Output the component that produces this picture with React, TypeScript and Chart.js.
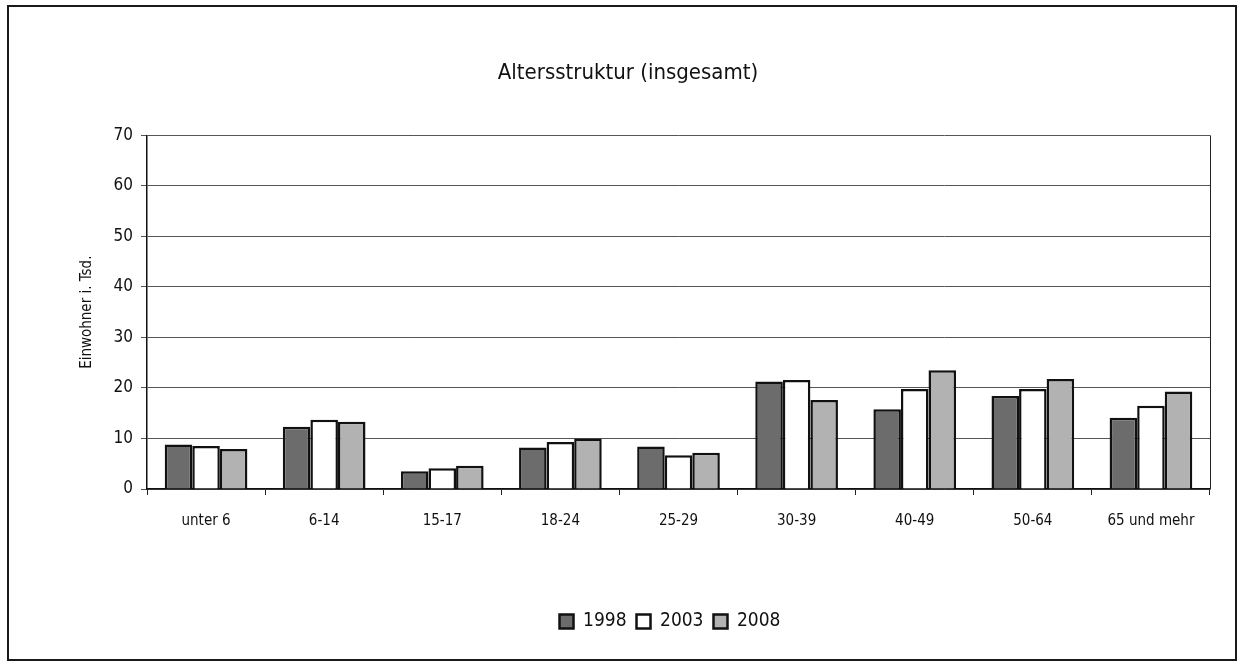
import React, { useEffect, useRef } from "react";
import { Chart, registerables } from "chart.js";

Chart.register(...registerables);

const categories = ["unter 6", "6-14", "15-17", "18-24", "25-29", "30-39", "40-49", "50-64", "65 und mehr"];
const seriesLabels = ["1998", "2003", "2008"];
const values1998 = [8.8, 12.3, 3.5, 8.2, 8.4, 21.3, 15.8, 18.4, 14.1];
const values2003 = [8.5, 13.7, 4.1, 9.3, 6.7, 21.6, 19.8, 19.8, 16.5];
const values2008 = [7.9, 13.3, 4.6, 10.0, 7.2, 17.6, 23.5, 21.8, 19.3];
const yMin = 0;
const yMax = 70;
const yStep = 10;

const FONT = "'Liberation Sans Narrow', 'DejaVu Sans Condensed', 'Roboto Condensed', 'Arial Narrow', sans-serif";

const rightBorder = {
  id: "rightBorder",
  afterDraw(chart: any) {
    const { ctx, chartArea } = chart;
    ctx.save();
    ctx.strokeStyle = "#222";
    ctx.lineWidth = 1;
    ctx.beginPath();
    ctx.moveTo(Math.round(chartArea.right) + 0.5, chartArea.top);
    ctx.lineTo(Math.round(chartArea.right) + 0.5, chartArea.bottom);
    ctx.stroke();
    ctx.restore();
  },
};

const legendShift = {
  id: "legendShift",
  afterLayout(chart: any) {
    const lg = chart.legend;
    if (lg) {
      lg.left += 42;
      lg.right += 42;
    }
  },
};

export default function App() {
  const ref = useRef<HTMLCanvasElement | null>(null);
  useEffect(() => {
    if (!ref.current) return;
    Chart.defaults.font.family = FONT;
    Chart.defaults.color = "#1a1a1a";
    const chart = new Chart(ref.current, {
      type: "bar",
      data: {
        labels: categories,
        datasets: [
          { label: seriesLabels[0], data: values1998, backgroundColor: "#6c6c6c", borderColor: "#111", borderWidth: 2.5 },
          { label: seriesLabels[1], data: values2003, backgroundColor: "#ffffff", borderColor: "#111", borderWidth: 2.5 },
          { label: seriesLabels[2], data: values2008, backgroundColor: "#b2b2b2", borderColor: "#111", borderWidth: 2.5 },
        ],
      },
      options: {
        animation: false,
        responsive: true,
        maintainAspectRatio: false,
        datasets: { bar: { categoryPercentage: 0.7, barPercentage: 1.0 } },
        layout: { padding: { left: 37, right: 25, top: 0, bottom: 18 } },
        plugins: {
          title: {
            display: true,
            text: "Altersstruktur (insgesamt)",
            font: { size: 22, weight: "normal" },
            color: "#111",
            padding: { top: 53, bottom: 49 },
          },
          legend: {
            position: "bottom",
            labels: {
              boxWidth: 14,
              boxHeight: 14,
              font: { size: 19 },
              color: "#111",
              padding: 10,
            },
          },
          tooltip: { enabled: false },
        },
        scales: {
          x: {
            grid: { offset: true, drawOnChartArea: false, drawTicks: true, tickLength: 6, color: "#222" },
            border: { display: true, color: "#111", width: 1.5 },
            ticks: { font: { size: 15 }, color: "#111", padding: 17, maxRotation: 0 },
            afterFit: (scale: any) => { scale.height = 113; },
          },
          y: {
            min: yMin,
            max: yMax,
            ticks: { stepSize: yStep, font: { size: 17 }, color: "#111", padding: 8 },
            grid: { color: "#555", lineWidth: 1, tickLength: 6, drawTicks: true },
            border: { display: true, color: "#111", width: 1.5 },
            title: {
              display: true,
              text: "Einwohner i. Tsd.",
              font: { size: 15 },
              color: "#111",
              padding: { top: 32, bottom: 0 },
            },
            afterFit: (scale: any) => { scale.width = 101; },
          },
        },
      },
      plugins: [rightBorder, legendShift],
    });
    return () => chart.destroy();
  }, []);

  return (
    <div
      style={{
        position: "absolute",
        left: 7,
        top: 5,
        width: 1230,
        height: 656,
        border: "2px solid #1a1a1a",
        boxSizing: "border-box",
        background: "#fff",
      }}
    >
      <div style={{ position: "relative", width: 1226, height: 652 }}>
        <canvas ref={ref} />
      </div>
    </div>
  );
}
